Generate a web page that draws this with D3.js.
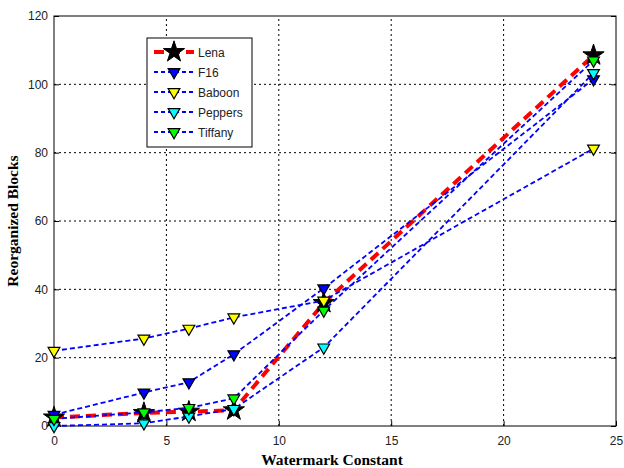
<!DOCTYPE html>
<html>
<head>
<meta charset="utf-8">
<script src="https://cdn.jsdelivr.net/npm/d3@7"></script>
<style>
  body { margin: 0; background: #fff; }
  svg { display: block; }
</style>
</head>
<body>
<div id="chart"></div>
<script>
// x values (watermark constant) and one array per image
const xValues = [0, 4, 6, 8, 12, 24];
const lena    = [2.5, 3.8, 4.2, 4.6, 36, 108.5];
const f16     = [3.3, 9.8, 12.8, 21, 40.3, 101.5];
const baboon  = [22, 25.6, 28.5, 31.8, 36.7, 81.2];
const peppers = [0, 0.8, 2.8, 5, 23, 103.3];
const tiffany = [2.1, 4, 5.3, 8.1, 33.8, 107];

const seriesNames = ['Lena', 'F16', 'Baboon', 'Peppers', 'Tiffany'];
const seriesValues = [lena, f16, baboon, peppers, tiffany];
const markerFills = ['#000000', '#0000ff', '#ffff00', '#00ffff', '#00ff00'];

const xTicks = [0, 5, 10, 15, 20, 25];
const yTicks = [0, 20, 40, 60, 80, 100, 120];

const width = 624, height = 468;
const margin = { top: 16, right: 8, bottom: 42, left: 54 };

const svg = d3.select('#chart').append('svg')
    .attr('width', width)
    .attr('height', height);

const x = d3.scaleLinear().domain([0, 25]).range([margin.left, width - margin.right]);
const y = d3.scaleLinear().domain([0, 120]).range([height - margin.bottom, margin.top]);

// dotted grid
const grid = svg.append('g');
grid.selectAll('line.gx')
    .data(xTicks.slice(1, -1))
    .enter().append('line')
    .attr('x1', d => x(d)).attr('x2', d => x(d))
    .attr('y1', y(0)).attr('y2', y(120))
    .attr('stroke', '#000').attr('stroke-width', 1)
    .attr('stroke-dasharray', '2,3');
grid.selectAll('line.gy')
    .data(yTicks.slice(1, -1))
    .enter().append('line')
    .attr('y1', d => y(d)).attr('y2', d => y(d))
    .attr('x1', x(0)).attr('x2', x(25))
    .attr('stroke', '#000').attr('stroke-width', 1)
    .attr('stroke-dasharray', '2,3');

// axes with inward ticks
const axisStyle = g => {
    g.select('.domain').remove();
    g.selectAll('text')
        .style('font-family', '"Liberation Sans", Arial, sans-serif')
        .style('font-size', '12px')
        .attr('fill', '#222');
};
svg.append('g')
    .attr('transform', `translate(0,${y(0)})`)
    .call(d3.axisBottom(x).tickValues(xTicks).tickSize(-5).tickPadding(10))
    .call(axisStyle);
svg.append('g')
    .attr('transform', `translate(${x(25)},0)`)
    .call(d3.axisTop(x).tickValues(xTicks).tickSize(-5).tickFormat(''))
    .call(g => g.select('.domain').remove());
svg.append('g')
    .attr('transform', `translate(${x(0)},0)`)
    .call(d3.axisLeft(y).tickValues(yTicks).tickSize(-5).tickPadding(6))
    .call(axisStyle);
svg.append('g')
    .attr('transform', `translate(${x(25)},0)`)
    .call(d3.axisRight(y).tickValues(yTicks).tickSize(-5).tickFormat(''))
    .call(g => g.select('.domain').remove());

// frame
svg.append('rect')
    .attr('x', x(0)).attr('y', y(120))
    .attr('width', x(25) - x(0)).attr('height', y(0) - y(120))
    .attr('fill', 'none').attr('stroke', '#000').attr('stroke-width', 1);

// axis titles
svg.append('text')
    .attr('x', (x(0) + x(25)) / 2 - 3).attr('y', height - 3)
    .attr('text-anchor', 'middle')
    .style('font-family', '"Liberation Serif", "Times New Roman", serif')
    .style('font-weight', 'bold').style('font-size', '15.5px')
    .text('Watermark Constant');
svg.append('text')
    .attr('transform', `translate(18,${(y(0) + y(120)) / 2}) rotate(-90)`)
    .attr('text-anchor', 'middle')
    .style('font-family', '"Liberation Serif", "Times New Roman", serif')
    .style('font-weight', 'bold').style('font-size', '15.5px')
    .text('Reorganized Blocks');

const triangle = d3.symbol().type(d3.symbolTriangle).size(60);
const star = d3.symbol().type(d3.symbolStar).size(140);

function drawMarker(g, i, cx, cy) {
    if (i === 0) {
        g.append('path')
            .attr('d', star())
            .attr('transform', `translate(${cx},${cy})`)
            .attr('fill', '#000').attr('stroke', '#000');
    } else {
        g.append('path')
            .attr('d', triangle())
            .attr('transform', `translate(${cx},${cy}) rotate(180)`)
            .attr('fill', markerFills[i]).attr('stroke', '#000').attr('stroke-width', 1.2);
    }
}

const line = d3.line().x((d, j) => x(xValues[j])).y(d => y(d));

seriesValues.forEach((vals, i) => {
    const g = svg.append('g');
    g.append('path')
        .datum(vals)
        .attr('d', line)
        .attr('fill', 'none')
        .attr('stroke', i === 0 ? '#ff0000' : '#0000ff')
        .attr('stroke-width', i === 0 ? 4 : 1.8)
        .attr('stroke-dasharray', i === 0 ? '10,6' : '5,3');
    vals.forEach((v, j) => drawMarker(g, i, x(xValues[j]), y(v)));
});

// legend
const legend = svg.append('g').attr('transform', 'translate(147,38)');
legend.append('rect')
    .attr('width', 105).attr('height', 109)
    .attr('fill', '#fff').attr('stroke', '#000').attr('stroke-width', 1);
seriesNames.forEach((name, i) => {
    const ly = 14 + i * 20;
    legend.append('line')
        .attr('x1', 7).attr('x2', 47).attr('y1', ly).attr('y2', ly)
        .attr('stroke', i === 0 ? '#ff0000' : '#0000ff')
        .attr('stroke-width', i === 0 ? 4 : 1.8)
        .attr('stroke-dasharray', i === 0 ? '10,6' : '4,3');
    drawMarker(legend, i, 27, ly);
    legend.append('text')
        .attr('x', 51).attr('y', ly + 4.5)
        .style('font-family', '"Liberation Sans", Arial, sans-serif')
        .style('font-size', '12px')
        .attr('fill', '#222')
        .text(name);
});
</script>
</body>
</html>
